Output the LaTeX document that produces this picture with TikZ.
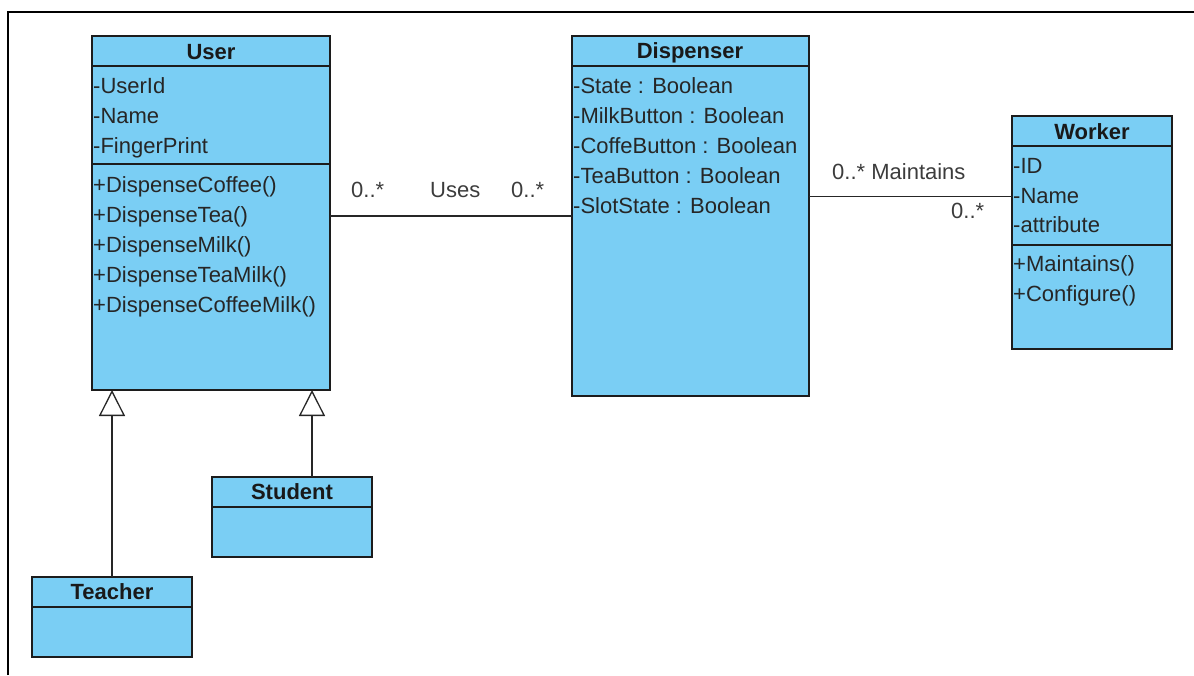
\documentclass[tikz,border=0pt]{standalone}
\usepackage{fontspec}
\setmainfont{Liberation Sans}
\usetikzlibrary{arrows.meta}
\definecolor{classblue}{RGB}{122,206,244}
\definecolor{edgegray}{RGB}{28,28,28}
\definecolor{labelgray}{RGB}{60,60,60}

\begin{document}
\begin{tikzpicture}[x=1pt,y=-1pt,
    classbox/.style={draw=edgegray, fill=classblue, line width=1.3pt, anchor=north west, inner sep=0pt, outer sep=0pt},
    classname/.style={font=\fontsize{22}{25}\selectfont\bfseries, anchor=base, inner sep=0pt, text=black!90},
    member/.style={font=\fontsize{22}{25}\selectfont, anchor=base west, inner sep=0pt, text=black!85},
    role/.style={font=\fontsize{22}{25}\selectfont, anchor=base west, inner sep=0pt, text=labelgray},
    divider/.style={draw=edgegray, line width=1.3pt},
    assoc/.style={draw=black!85, line width=1.3pt},
    inherit/.style={draw=black!85, line width=1.3pt, -{Triangle[open,length=26pt,width=26pt]}}]
    \useasboundingbox (0,0) rectangle (1194,675);
    % frame
    \draw [line width=1.6pt] (8,675) -- (8,12) -- (1194,12);

    % User
    \node [classbox, minimum width=238pt, minimum height=354pt] (user) at (92,36) {};
    \draw [divider] ([yshift=-30pt]user.north west) -- ([yshift=-30pt]user.north east);
    \draw [divider] ([yshift=-128pt]user.north west) -- ([yshift=-128pt]user.north east);
    \node [classname] (usertitle) at (211,59) {User};
    \node [member] (userid) at (93,93) {-UserId};
    \node [member] (username) at (93,123) {-Name};
    \node [member] (userfinger) at (93,153) {-FingerPrint};
    \node [member] (usercoffee) at (93,192) {+DispenseCoffee()};
    \node [member] (usertea) at (93,222) {+DispenseTea()};
    \node [member] (usermilk) at (93,252) {+DispenseMilk()};
    \node [member] (userteamilk) at (93,282) {+DispenseTeaMilk()};
    \node [member] (usercoffeemilk) at (93,312) {+DispenseCoffeeMilk()};

    % Dispenser
    \node [classbox, minimum width=237pt, minimum height=360pt] (dispenser) at (572,36) {};
    \draw [divider] ([yshift=-30pt]dispenser.north west) -- ([yshift=-30pt]dispenser.north east);
    \node [classname] (dispensertitle) at (690,58) {Dispenser};
    \node [member] (dispstate) at (573,93) {-State : Boolean};
    \node [member] (dispmilk) at (573,123) {-MilkButton : Boolean};
    \node [member] (dispcoffe) at (573,153) {-CoffeButton : Boolean};
    \node [member] (disptea) at (573,183) {-TeaButton : Boolean};
    \node [member] (dispslot) at (573,213) {-SlotState : Boolean};

    % Worker
    \node [classbox, minimum width=160pt, minimum height=233pt] (worker) at (1012,116) {};
    \draw [divider] ([yshift=-30pt]worker.north west) -- ([yshift=-30pt]worker.north east);
    \draw [divider] ([yshift=-129pt]worker.north west) -- ([yshift=-129pt]worker.north east);
    \node [classname] (workertitle) at (1092,139) {Worker};
    \node [member] (workerid) at (1013,173) {-ID};
    \node [member] (workername) at (1013,203) {-Name};
    \node [member] (workerattr) at (1013,232) {-attribute};
    \node [member] (workermaint) at (1013,271) {+Maintains()};
    \node [member] (workerconf) at (1013,301) {+Configure()};

    % Student
    \node [classbox, minimum width=160pt, minimum height=80pt] (student) at (212,477) {};
    \draw [divider] ([yshift=-30pt]student.north west) -- ([yshift=-30pt]student.north east);
    \node [classname] (studenttitle) at (292,499) {Student};

    % Teacher
    \node [classbox, minimum width=160pt, minimum height=80pt] (teacher) at (32,577) {};
    \draw [divider] ([yshift=-30pt]teacher.north west) -- ([yshift=-30pt]teacher.north east);
    \node [classname] (teachertitle) at (112,599) {Teacher};

    % generalization
    \draw [inherit] (teacher.north) -- (teacher.north |- user.south);
    \coordinate (studentup) at ([xshift=20pt]student.north);
    \draw [inherit] (studentup) -- (studentup |- user.south);

    % Uses
    \draw [assoc] (dispenser.west -| user.east) -- (dispenser.west);
    \node [role] (usesleft) at (351,197) {0..*};
    \node [role] (useslabel) at (430,197) {Uses};
    \node [role] (usesright) at (511,197) {0..*};

    % Maintains
    \coordinate (maintend) at ([yshift=36pt]worker.west);
    \draw [assoc] (dispenser.east |- maintend) -- (maintend);
    \node [role] (maintlabel) at (832,179) {0..* Maintains};
    \node [role] (maintright) at (951,218) {0..*};
\end{tikzpicture}
\end{document}
